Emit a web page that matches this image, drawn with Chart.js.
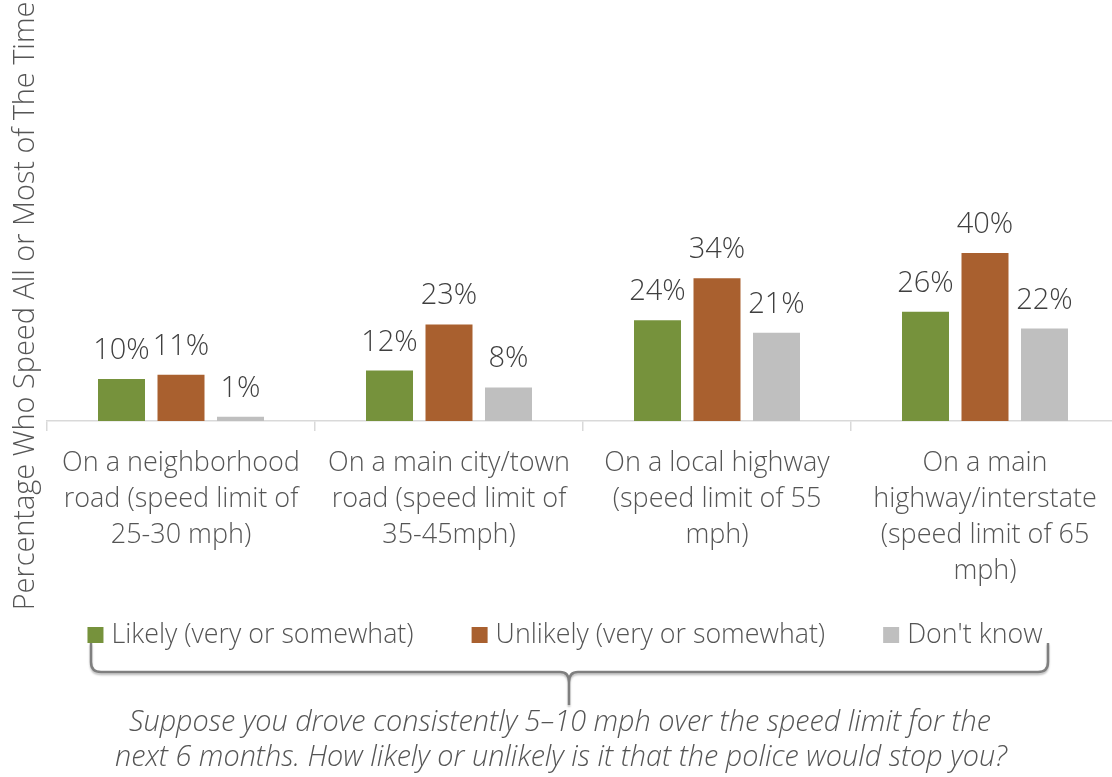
<!DOCTYPE html>
<html>
<head>
<meta charset="utf-8">
<script src="https://cdn.jsdelivr.net/npm/chart.js@4"></script>
<style>
  html, body { margin: 0; padding: 0; background: #ffffff; overflow: hidden; }
  #wrap { width: 1120px; height: 777px; }
</style>
</head>
<body>
<div id="wrap"><canvas id="chart" width="1120" height="777"></canvas></div>
<script>
// Road types (x-axis categories), pre-wrapped into lines
const categories = [
  ['On a neighborhood', 'road (speed limit of', '25-30 mph)'],
  ['On a main city/town', 'road (speed limit of', '35-45mph)'],
  ['On a local highway', '(speed limit of 55', 'mph)'],
  ['On a main', 'highway/interstate', '(speed limit of 65', 'mph)']
];

// Series: share who speed all or most of the time (%), by perceived chance of being stopped
const seriesNames = ['Likely (very or somewhat)', 'Unlikely (very or somewhat)', "Don't know"];
const likely   = [10, 12, 24, 26];
const unlikely = [11, 23, 34, 40];
const dontKnow = [1, 8, 21, 22];

const yTitle = 'Percentage Who Speed All or Most of The Time';
const questionLines = [
  'Suppose you drove consistently 5\u201310 mph over the speed limit for the',
  'next 6 months. How likely or unlikely is it that the police would stop you?'
];

const FONT = "'Open Sans', 'Noto Sans', sans-serif";
const WEIGHT = 350;
const TEXT_GREY = '#555555';
const LABEL_GREY = '#3f3f3f';

Chart.defaults.font.family = FONT;
Chart.defaults.font.weight = WEIGHT;
Chart.defaults.color = TEXT_GREY;

// Value labels above each bar
const valueLabels = {
  id: 'valueLabels',
  afterDatasetsDraw(chart) {
    const ctx = chart.ctx;
    ctx.save();
    ctx.font = `${WEIGHT} 29px ${FONT}`;
    ctx.fillStyle = LABEL_GREY;
    ctx.textAlign = 'center';
    ctx.textBaseline = 'alphabetic';
    chart.data.datasets.forEach((ds, i) => {
      const meta = chart.getDatasetMeta(i);
      meta.data.forEach((bar, j) => {
        ctx.fillText(ds.data[j] + '%', bar.x, bar.y - 20);
      });
    });
    ctx.restore();
  }
};

// Series key drawn in one row below the category labels
const seriesKey = {
  id: 'seriesKey',
  afterDraw(chart) {
    const ctx = chart.ctx;
    const box = 16, textGap = 8, itemGap = 58, centerX = 565, centerY = 635;
    ctx.save();
    ctx.font = `${WEIGHT} 26.8px ${FONT}`;
    ctx.textBaseline = 'middle';
    ctx.textAlign = 'left';
    const items = chart.data.datasets.map(ds => ({
      text: ds.label, color: ds.backgroundColor, w: ctx.measureText(ds.label).width
    }));
    const total = items.reduce((s, it) => s + box + textGap + it.w, 0) + itemGap * (items.length - 1);
    let x = centerX - total / 2;
    items.forEach(it => {
      ctx.fillStyle = it.color;
      ctx.fillRect(x, centerY - box / 2, box, box);
      ctx.fillStyle = TEXT_GREY;
      ctx.fillText(it.text, x + box + textGap, centerY);
      x += box + textGap + it.w + itemGap;
    });
    ctx.restore();
  }
};

// Rotated y-axis title, brace under the key and the survey question
const annotations = {
  id: 'annotations',
  afterDraw(chart) {
    const ctx = chart.ctx;
    ctx.save();
    ctx.translate(26, 306);
    ctx.rotate(-Math.PI / 2);
    ctx.font = `${WEIGHT} 28.9px ${FONT}`;
    ctx.fillStyle = TEXT_GREY;
    ctx.textAlign = 'center';
    ctx.textBaseline = 'middle';
    ctx.fillText(yTitle, 0, 0);
    ctx.restore();

    // brace
    ctx.save();
    ctx.strokeStyle = '#7f7f7f';
    ctx.lineWidth = 2.5;
    ctx.lineJoin = 'round';
    ctx.shadowColor = 'rgba(0,0,0,0.25)';
    ctx.shadowOffsetY = 2;
    ctx.shadowBlur = 2;
    const L = 91, R = 1048, top = 643, mid = 672, cx = 569, tip = 705;
    ctx.beginPath();
    ctx.moveTo(L, top);
    ctx.lineTo(L, mid - 10);
    ctx.quadraticCurveTo(L, mid, L + 10, mid);
    ctx.lineTo(cx - 9, mid);
    ctx.quadraticCurveTo(cx, mid, cx, mid + 10);
    ctx.lineTo(cx, tip);
    ctx.moveTo(cx, mid + 10);
    ctx.quadraticCurveTo(cx, mid, cx + 9, mid);
    ctx.lineTo(R - 10, mid);
    ctx.quadraticCurveTo(R, mid, R, mid - 10);
    ctx.lineTo(R, top);
    ctx.stroke();
    ctx.restore();

    // question
    ctx.save();
    ctx.font = `italic ${WEIGHT} 28.8px ${FONT}`;
    ctx.fillStyle = TEXT_GREY;
    ctx.textAlign = 'center';
    ctx.textBaseline = 'middle';
    ctx.fillText(questionLines[0], 560, 723);
    ctx.fillText(questionLines[1], 561, 758);
    ctx.restore();
  }
};

new Chart(document.getElementById('chart'), {
  type: 'bar',
  data: {
    labels: categories,
    datasets: [
      { label: seriesNames[0], data: likely,   backgroundColor: '#76923c', borderWidth: 0 },
      { label: seriesNames[1], data: unlikely, backgroundColor: '#a9602f', borderWidth: 0 },
      { label: seriesNames[2], data: dontKnow, backgroundColor: '#bfbfbf', borderWidth: 0 }
    ]
  },
  options: {
    responsive: false,
    devicePixelRatio: 1,
    animation: false,
    categoryPercentage: 0.666,
    barPercentage: 0.79,
    layout: { padding: { left: 28, right: 1, top: 1, bottom: 176 } },
    plugins: {
      tooltip: { enabled: false },
      legend: { display: false }
    },
    scales: {
      x: {
        offset: true,
        border: { display: true, color: '#d9d9d9', width: 1.5 },
        grid: {
          offset: true,
          drawOnChartArea: false,
          drawTicks: true,
          tickLength: 10,
          color: '#d9d9d9',
          lineWidth: 1.5
        },
        ticks: {
          color: TEXT_GREY,
          padding: 14,
          maxRotation: 0,
          autoSkip: false,
          font: { size: 27, family: FONT, weight: WEIGHT, lineHeight: 1.333 }
        },
        afterFit(scale) { scale.height = 180; }
      },
      y: {
        min: 0,
        max: 100,
        grid: { display: false },
        border: { display: false },
        ticks: { display: false },
        afterFit(scale) { scale.width = 19; }
      }
    }
  },
  plugins: [valueLabels, seriesKey, annotations]
});
</script>
</body>
</html>
